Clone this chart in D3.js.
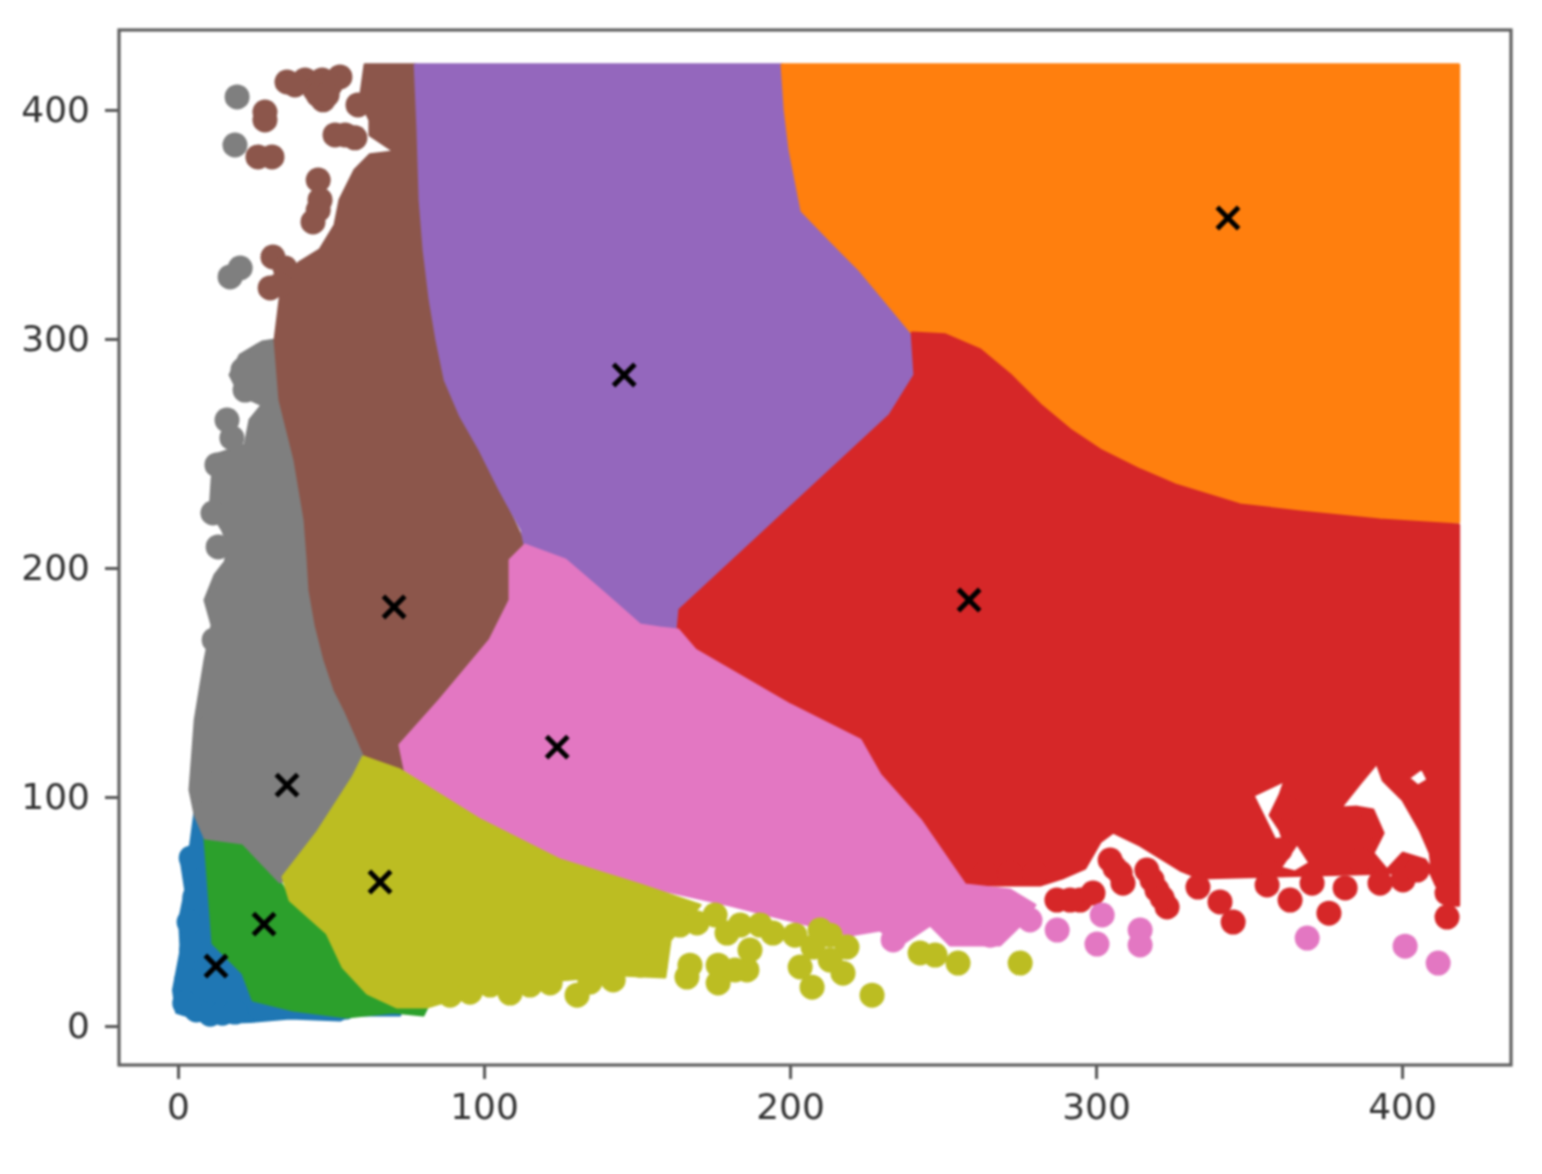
<!DOCTYPE html>
<html><head><meta charset="utf-8">
<script src="https://d3js.org/d3.v7.min.js"></script>
<style>html,body{margin:0;background:#fff}svg{display:block;filter:blur(1.1px)}</style>
</head><body><svg id="c" width="1542" height="1174"></svg>
<script>
const tickValues=[0,100,200,300,400];
const clusterColors={blue:"#1f77b4",green:"#2ca02c",gray:"#7f7f7f",brown:"#8c564b",purple:"#9467bd",orange:"#ff7f0e",red:"#d62728",pink:"#e377c2",olive:"#bcbd22"};
// cluster extents (dense areas), data units
const blueArea=[[5.6,94.3],[3.9,76.9],[1,72.5],[2.5,59.4],[.5,46.3],[1,33.2],[-1.5,15.7],[-.5,6],[10.5,1.5],[23.5,2],[36.6,3.5],[52.9,2.6],[56.2,4.8],[72.5,4.8],[39.9,55],[8.8,82.1]];
const greenArea=[[8.8,82.1],[21.2,79.9],[33.3,62.9],[36.6,55],[48.7,40.6],[53.9,25.8],[61.8,14.4],[71.6,8.3],[81.4,8.3],[80.1,4.8],[70.3,6.1],[55.2,3.9],[37.6,7],[24.5,11.4],[21.2,23.1],[11.4,36.2]];
const grayArea=[[27.5,298.7],[20.3,293],[17,284.3],[20.3,275.6],[27.5,271.2],[23.5,264.6],[21.9,253.7],[12.1,249.4],[11.1,238.4],[10.5,225.3],[14.5,216.6],[16.5,210],[15.4,202.6],[12.1,197],[8.8,186],[11.1,175.1],[8.8,159.8],[5.6,133.6],[3.9,103.1],[5.6,92.1],[8.8,82.1],[21.2,79.9],[33.3,62.9],[45,70],[62,105],[61.1,118.3],[54.6,138],[48,159.8],[43.1,190.4],[41.5,221],[38.2,247.2],[33.3,273.4],[31.7,299.6]];
const brownArea=[[77.5,419.7],[61.1,419.7],[59.5,404.4],[62.7,395.6],[62.7,389.1],[70.9,381.7],[62.7,380.4],[57.8,373.8],[52.9,360.7],[51.3,349.8],[46.4,338.9],[39.9,333.6],[35,328],[33.3,317],[31.7,299.6],[33.3,273.4],[38.2,247.2],[41.5,221],[42.5,203.5],[43.1,190.4],[45.1,175.1],[48,159.8],[51.3,146.7],[54.6,138],[61.1,118.3],[74.2,111.8],[72.5,122.7],[85.6,142.4],[102,168.6],[108.5,186],[108.5,203.5],[113.4,210],[98.7,251.5],[87.3,282.1],[82.4,317],[79.1,360.7]];
const purpleArea=[[77.5,419.7],[197.4,419.7],[203.9,356],[222.9,330],[239.9,302.6],[240.8,284.3],[232.7,266.8],[203.3,227.5],[166,178],[164,170],[157.5,173.8],[151,175.1],[137.9,190.4],[126.5,203.5],[113.4,210],[112.4,216.6],[105.2,234.1],[98.7,251.5],[92.2,266.8],[87.3,282.1],[84.6,299.6],[82.4,317],[80.4,338.9],[79.1,360.7],[78.4,391.3]];
const orangeArea=[[197.4,419.7],[418.5,419.7],[418.5,220],[392.8,221],[366.7,224.5],[347,227.5],[325.8,236],[314.4,242.8],[301.3,251.5],[291.5,260.3],[281.7,271],[271.9,284.3],[262,295],[250.7,301.7],[239.9,302.6],[231,317],[222.9,330],[213.1,343.2],[203.9,356],[200,382.5],[198.4,400]];
const redArea=[[239.9,302.6],[250.7,301.8],[262.1,295.2],[271.9,284.3],[281.7,271.2],[291.5,260.3],[301.3,251.5],[314.4,242.8],[325.8,236.3],[347.1,227.5],[366.7,224.5],[392.8,221],[418.5,218.8],[418.5,52.8],[415.7,52.8],[411.1,61.6],[409.2,67.3],[334,64.6],[327.5,68.1],[314.4,79],[305.6,84.7],[301.3,80.4],[296.4,69],[288.9,64.6],[281.7,61.6],[257.2,61.6],[242.5,90],[229.4,109.6],[222.9,124.9],[200,140.2],[169,164.2],[163.4,172.9],[164,181.7],[232.7,266.8],[240.8,284.3]];
const redGaps=[
 [[351.3,100.7],[361.8,107.4],[360.1,100.9],[356.9,92.1],[360.1,85.6],[361.8,79],[358.5,81.2]],
 [[360.1,69],[365.7,79.9],[369.9,71.2],[365,67.3]],
 [[379.8,95.2],[386.3,106.1],[391.8,114.9],[393.8,107.4],[400.3,98.7],[405.9,85.6],[409.2,75.5],[409.8,68.1],[407.5,72.5],[400.3,75.5],[395.1,68.1],[390.5,75.5],[393.8,84.3],[390.5,94.3],[385.3,95.6]],
 [[402,108.3],[406.5,112.7],[408.5,107.4],[405.2,104.8]]
];
const pinkArea=[[113.4,210],[126.5,203.5],[137.9,190.4],[151,175.1],[157.5,173.8],[163.4,172.9],[169,164.2],[200,140.2],[222.9,124.9],[229.4,109.6],[242.5,90],[257.2,61.6],[271.9,59.4],[280,52.8],[275.2,44.1],[268.6,35.4],[252.3,35.4],[245.8,44.1],[236,35.4],[229.4,41.9],[219.6,39.7],[180.4,52.8],[151,61.6],[124.8,72.5],[98.7,90],[74.2,111.8],[72.5,122.7],[85.6,142.4],[102,168.6],[108.5,186],[108.5,203.5]];
const oliveArea=[[60.5,117.5],[72.5,111.8],[98.7,90],[124.8,72.5],[151,61.6],[170.6,52.8],[160.8,37.6],[159.1,21.4],[144.4,22.3],[124.8,20.1],[105.2,15.7],[88.9,11.4],[81.4,8.3],[71.6,8.3],[61.8,14.4],[53.9,25.8],[48.7,40.6],[36.6,55],[34.3,65.1],[45.4,84.3],[57.2,108.7]];
// individually visible points
const bluePoints=[[4.3,73.4],[5.5,56.3],[3.6,45.4],[4.4,33.2],[2.8,20.1],[2.2,10],[6,7],[10.5,5.2],[14.5,5.6],[18.6,6.1],[26.8,7.9],[36.6,8.7],[54.6,8.3]];
const grayPoints=[[19.3,405.7],[18.6,384.7],[17,327.1],[20.3,331],[16,264.6],[17.6,256.8],[12.7,245],[11.4,224],[13.1,209.2],[13.7,186],[12.1,148],[10.5,130.6],[27.5,293],[21.2,286.5],[21.9,277.7],[11.8,168.6],[9.8,116.2],[8.8,103.1]];
const brownPoints=[[35.6,412.2],[41.5,413.1],[47.1,413.1],[52.9,414.4],[47.4,404.4],[28.4,399.1],[28.4,395.6],[26.1,379.5],[30.7,379.5],[51.3,389.1],[57.8,387.8],[45.8,369.4],[46.4,360.7],[44.1,351.1],[31,335.8],[30.1,322.3],[58.8,402.2],[38.2,410.9],[44.8,408.7],[49.7,410.9],[45.8,406.6],[48.7,406.6],[45.8,356.3],[35,331],[33.3,323.6],[54.6,389.1]];
const redPoints=[[287.2,55],[294.8,55],[299,58.1],[307.9,66.8],[308.8,62.4],[304.6,72.5],[316.6,68.1],[319.9,59.4],[323.2,52],[333.3,60.7],[340.5,54.2],[344.8,45.4],[355.9,61.6],[363.4,55],[370.6,62.4],[376.1,49.3],[381.4,60.3],[392.8,62.4],[400.3,63.8],[404.9,68.1],[414.7,47.6],[414.7,58.1],[386.3,72.5],[388.6,86.9],[362.4,95.2],[360.1,76.9],[263.7,66.8],[271.9,66.8],[280,66.8],[291.5,55],[318.3,63.8],[321.6,55.9],[306.2,69]];
const pinkPoints=[[287.3,41.9],[302,48.5],[300.3,35.8],[314.4,41.9],[314.4,35.4],[369,38.4],[401,34.9],[411.8,27.5],[233.7,37.6],[258.8,41],[278.4,46.3],[265.4,39.7]];
const olivePoints=[[108.5,14.4],[102,17.9],[88.9,13.5],[121.6,18.8],[130.4,13.5],[142.2,20.1],[166.3,21.4],[167.3,26.6],[169.6,45],[175.5,48.5],[179.4,40.6],[176.5,18.8],[176.5,26.6],[185.9,24.5],[186.9,33.2],[194.4,40.6],[201.6,39.7],[203.3,25.8],[207.2,17],[207.5,34.5],[218.6,34.5],[217.3,23.1],[226.8,13.5],[242.5,31.9],[247.4,31],[254.9,27.5],[275.2,27.5],[95.4,14.8],[115,17.9],[134.6,19.2],[151,26.6],[155.9,26.6],[164,44.1],[183.7,44.1],[182,24.5],[190.2,44.1],[213.1,39.7],[213.1,28.8],[209.8,41.9]];
const centroids=[[343.1,352.8],[145.8,284.3],[258.5,186],[70.6,183],[123.9,121.8],[35.6,105.2],[66,62.9],[28.1,44.5],[12.4,26.2]];

const L=119,R=1511,T=30,B=1065;
const x=d3.scaleLinear().domain([-19.3,435.6]).range([L,R]);
const y=d3.scaleLinear().domain([-17,434.9]).range([B,T]);
const svg=d3.select("#c");
const line=d3.line().x(d=>x(d[0])).y(d=>y(d[1])).curve(d3.curveLinearClosed);
const layers=[
 ["blue",[blueArea],bluePoints],["green",[greenArea],[]],["gray",[grayArea],grayPoints],["brown",[brownArea],brownPoints],
 ["purple",[purpleArea],[]],["orange",[orangeArea],[]],["red",[redArea,...redGaps],redPoints],["pink",[pinkArea],pinkPoints],["olive",[oliveArea],olivePoints]
];
const plot=svg.append("g");
layers.forEach(([name,rings,pts])=>{
  const c=clusterColors[name];
  plot.append("path").attr("d",rings.map(r=>line(r)).join(" ")).attr("fill",c).attr("fill-rule","evenodd")
    .attr("stroke",c).attr("stroke-width",3).attr("stroke-linejoin","round");
  plot.selectAll(null).data(pts).join("circle").attr("cx",d=>x(d[0])).attr("cy",d=>y(d[1])).attr("r",12.5).attr("fill",c);
});
svg.append("g").selectAll("path").data(centroids).join("path")
  .attr("d",d3.symbol().type(d3.symbolX).size(300))
  .attr("transform",d=>`translate(${x(d[0])},${y(d[1])})`)
  .attr("fill","none").attr("stroke","#000").attr("stroke-width",5);
const axisStyle=g=>{
  g.selectAll("text").attr("font-family","DejaVu Sans").attr("font-size",36).attr("fill","#333");
  g.selectAll("line").attr("stroke","#555").attr("stroke-width",3);
  g.select(".domain").remove();
};
svg.append("g").attr("transform",`translate(0,${B})`)
  .call(d3.axisBottom(x).tickValues(tickValues).tickSize(14).tickPadding(14)).call(axisStyle);
svg.append("g").attr("transform",`translate(${L},0)`)
  .call(d3.axisLeft(y).tickValues(tickValues).tickSize(14).tickPadding(15)).call(axisStyle);
svg.append("rect").attr("x",L).attr("y",T).attr("width",R-L).attr("height",B-T).attr("fill","none").attr("stroke","#5f5f5f").attr("stroke-width",3.2);
</script></body></html>
